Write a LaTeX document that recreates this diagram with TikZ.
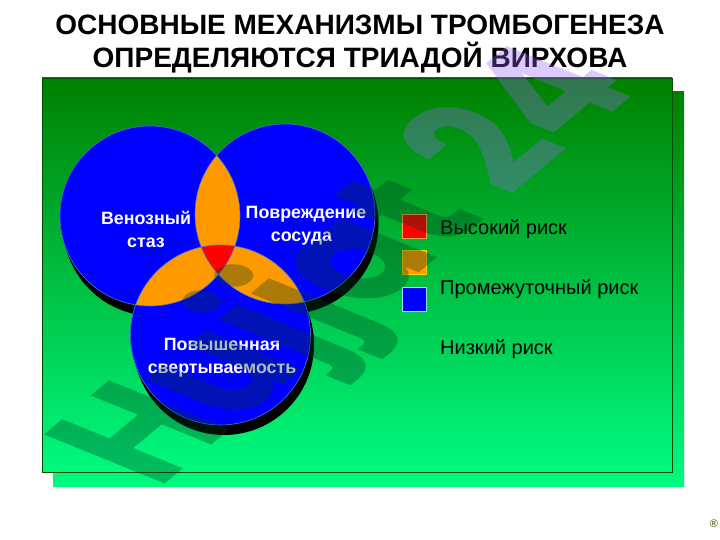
\documentclass[tikz,border=0pt]{standalone}
\usepackage{fontspec}
\setmainfont{Liberation Sans}
\newfontfamily\wmfont{Poppins}
\definecolor{gtop}{RGB}{0,128,0}
\definecolor{gbot}{RGB}{0,250,128}
\definecolor{vblue}{RGB}{0,0,255}
\definecolor{vorange}{RGB}{255,153,0}
\definecolor{vred}{RGB}{255,0,0}
\definecolor{vedge}{RGB}{70,120,210}
\definecolor{wmdark}{RGB}{0,60,30}
\definecolor{wmviolet}{RGB}{150,100,240}
\definecolor{mark}{RGB}{110,110,30}
\tikzset{
  panel/.style={top color=gtop,bottom color=gbot,middle color=gtop!50!gbot},
  swatch/.style={minimum width=24pt,minimum height=24pt,inner sep=0pt,line width=.8pt},
  heading/.style={font=\fontsize{28}{33}\selectfont\bfseries,align=center,text=black,inner sep=0pt},
  vlabel/.style={font=\fontsize{17.8}{23}\selectfont\bfseries,align=center,text=white,inner sep=0pt},
  legendtext/.style={font=\fontsize{20}{22}\selectfont,anchor=west,text=black,inner sep=0pt},
}
\begin{document}
\begin{tikzpicture}[x=1pt,y=-1pt]
\useasboundingbox (0,0) rectangle (720,540);
\fill[white] (0,0) rectangle (720,540);
\node[heading] (title) at (360,44) {ОСНОВНЫЕ МЕХАНИЗМЫ ТРОМБОГЕНЕЗА\\ОПРЕДЕЛЯЮТСЯ ТРИАДОЙ ВИРХОВА};
% panels
\shade[panel] (53,92) rectangle (684,486);
\shade[panel,draw=black!70!green,line width=.6pt] (42,78) rectangle (672,472);
% circle centres
\coordinate (cL) at (150,216);
\coordinate (cR) at (285,214);
\coordinate (cB) at (220.5,335);
% extruded shadows
\foreach \i in {0,1,...,10}{
  \foreach \c in {cL,cR,cB}{
    \fill[black] ([shift={(\i*.35,\i)}]\c) circle[radius=90pt];
  }
}
% blue discs
\foreach \c in {cL,cR,cB}{\fill[vblue] (\c) circle[radius=90pt];}
% pairwise overlaps
\begin{scope}\clip (cL) circle[radius=90pt];\fill[vorange] (cR) circle[radius=90pt];\fill[vorange] (cB) circle[radius=90pt];\end{scope}
\begin{scope}\clip (cR) circle[radius=90pt];\fill[vorange] (cB) circle[radius=90pt];\end{scope}
% triple overlap
\begin{scope}\clip (cL) circle[radius=90pt];\clip (cR) circle[radius=90pt];\fill[vred] (cB) circle[radius=90pt];\end{scope}
\foreach \c in {cL,cR,cB}{\draw[vedge,line width=.6pt] (\c) circle[radius=90pt];}
% labels
\node[vlabel] (lv) at (146,229.5) {Венозный\\стаз};
\node[vlabel] (lp) at (306,226) {Повреждение\\сосуда\hspace*{9pt}};
\node[vlabel] (lh) at (222,357.5) {Повышенная\\свертываемость};
% legend
\node[swatch,fill=vred,draw=orange!70!white] (s1) at (414.5,226.5) {};
\node[swatch,fill=vorange,draw=yellow!70!orange] (s2) at (414.5,262.5) {};
\node[swatch,fill=vblue,draw=cyan!40!white] (s3) at (414.5,299.5) {};
\node[legendtext] (t1) at (440,229.5) {Высокий риск};
\node[legendtext] (t2) at (440,289.5) {Промежуточный риск};
\node[legendtext] (t3) at (440,349.5) {Низкий риск};
\node[font=\fontsize{11}{11}\selectfont\bfseries,text=mark,inner sep=0pt] (reg) at (714,524) {®};
% watermark
\begin{scope}[cm={1.07,.89,-1.72,.70,(158,490)}]
\node[transform shape,anchor=base west,inner sep=0pt,text opacity=.33,font=\wmfont\fontsize{100}{100}\selectfont\bfseries] (wm) at (0,0) {\color{wmdark}Hujjat \color{wmviolet}24};
\end{scope}
\end{tikzpicture}
\end{document}
